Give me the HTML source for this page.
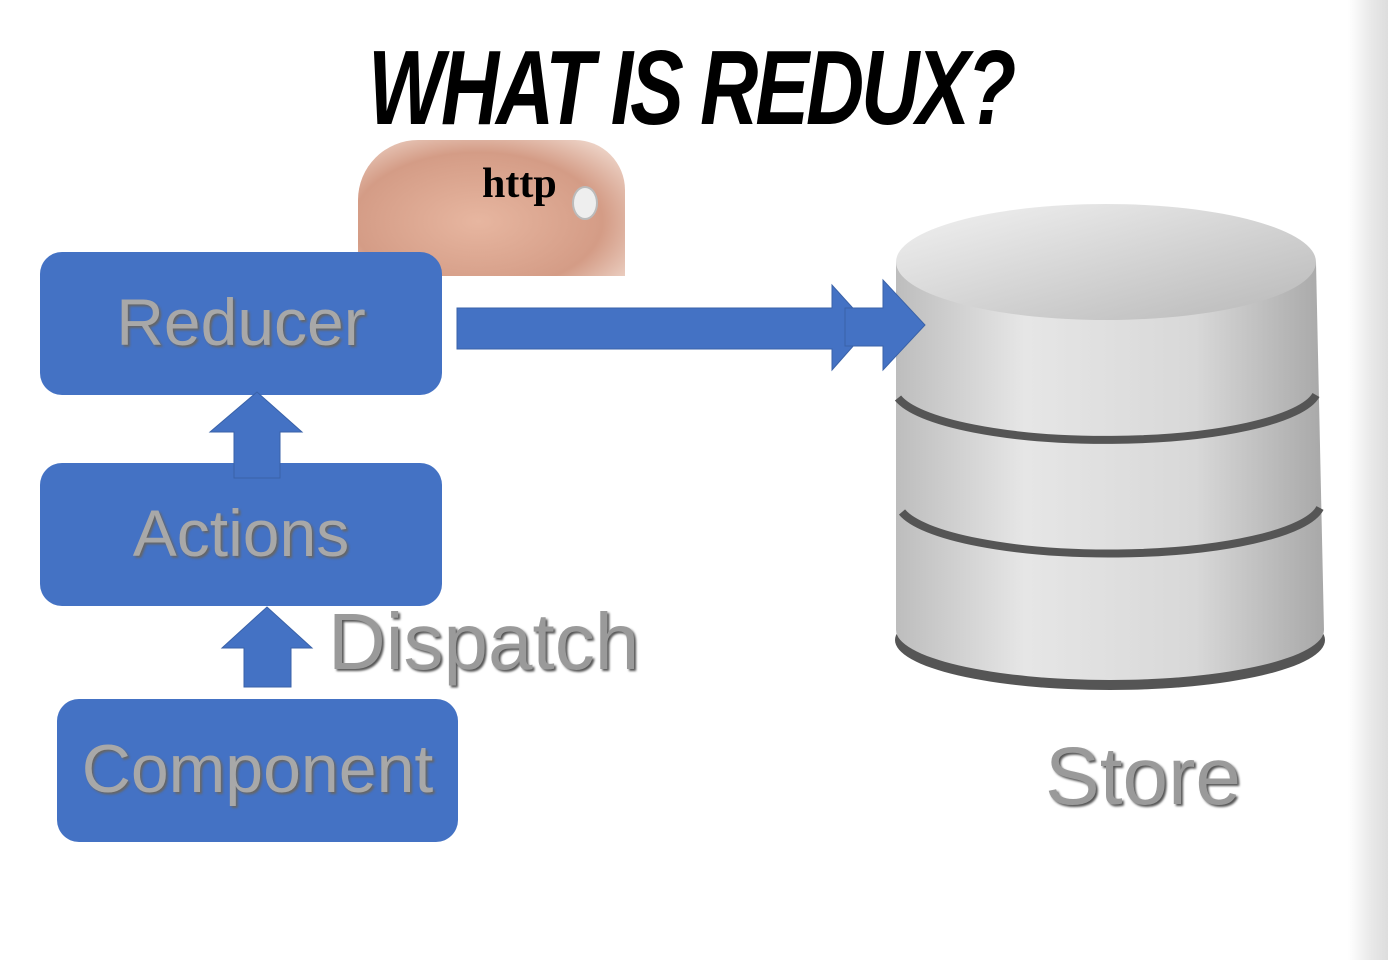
<!DOCTYPE html>
<html><head><style>
body{margin:0;width:1388px;height:960px;background:#fff;position:relative;overflow:hidden;font-family:"Liberation Sans",sans-serif}
.box{position:absolute;background:#4472c4;border-radius:22px;color:#a8a8a8;text-align:center;text-shadow:2px 2px 2px #666;white-space:nowrap}
.t{position:absolute;color:#9a9a9a;text-shadow:2px 2px 2px #555;white-space:nowrap}
</style></head><body>
<div style="position:absolute;right:0;top:0;width:40px;height:960px;background:linear-gradient(90deg,#fff,#e8e8e8 60%,#ddd)"></div>
<div style="position:absolute;left:368px;top:28px;white-space:nowrap;font-size:106px;font-weight:bold;font-style:italic;letter-spacing:-4px;transform:scaleX(0.76);transform-origin:left top;color:#000;font-family:'Liberation Sans Narrow','Liberation Sans',sans-serif">WHAT IS REDUX?</div>
<div style="position:absolute;left:358px;top:140px;width:267px;height:136px;background:radial-gradient(ellipse at 45% 60%,#e7b6a0,#d49c86 60%,#f3e0d6 95%);border-radius:60px 50px 0 0"></div>
<div style="position:absolute;left:482px;top:160px;font-family:'Liberation Serif',serif;font-weight:bold;font-size:42px;color:#000">http</div>
<div style="position:absolute;left:572px;top:186px;width:22px;height:30px;border-radius:50%;background:#eee;border:2px solid #bbb"></div>
<div class="box" style="left:40px;top:252px;width:402px;height:143px;line-height:140px;font-size:66px">Reducer</div>
<div class="box" style="left:40px;top:463px;width:402px;height:143px;line-height:140px;font-size:66px">Actions</div>
<div class="box" style="left:57px;top:699px;width:401px;height:143px;line-height:140px;font-size:68px">Component</div>
<svg width="1388" height="960" style="position:absolute;left:0;top:0">
<defs>
<linearGradient id="g" x1="0" x2="1"><stop offset="0" stop-color="#bdbdbd"/><stop offset=".3" stop-color="#e6e6e6"/><stop offset=".7" stop-color="#d8d8d8"/><stop offset="1" stop-color="#a8a8a8"/></linearGradient>
<linearGradient id="top" x1="0" y1="0" x2="1" y2="1"><stop offset="0" stop-color="#f2f2f2"/><stop offset="1" stop-color="#b8b8b8"/></linearGradient>
</defs>
<ellipse cx="1110" cy="640" rx="215" ry="50" fill="#555"/>
<path d="M896 262 L896 630 A214 50 0 0 0 1324 630 L1316 262 Z" fill="url(#g)"/>
<path d="M898 398 A212 52 0 0 0 1316 395" fill="none" stroke="#555" stroke-width="8"/>
<path d="M902 512 A212 52 0 0 0 1320 508" fill="none" stroke="#555" stroke-width="8"/>
<ellipse cx="1106" cy="262" rx="210" ry="58" fill="url(#top)"/>
<g fill="#4472c4" stroke="#3a62a8" stroke-width="1">
<polygon points="234,478 280,478 280,432 302,432 257,392 210,432 234,432"/>
<polygon points="244,687 291,687 291,648 312,648 267,607 222,648 244,648"/>
<polygon points="457,308 832,308 832,285 870,327 832,370 832,349 457,349"/>
<polygon points="845,308 883,308 883,280 925,325 883,370 883,346 845,346"/>
</g>
</svg>
<div class="t" style="left:328px;top:596px;font-size:80px">Dispatch</div>
<div class="t" style="left:1045px;top:730px;font-size:82px">Store</div>
</body></html>
